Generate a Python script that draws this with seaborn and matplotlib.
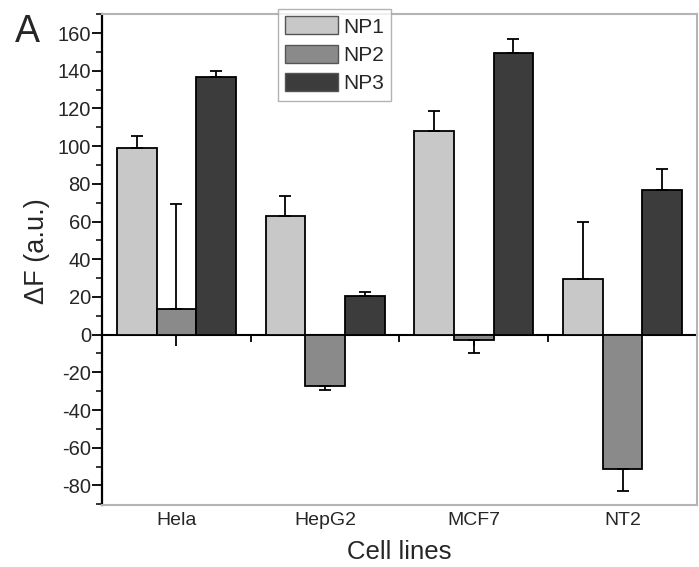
import matplotlib
matplotlib.use("Agg")
import matplotlib.pyplot as plt
import seaborn as sns
import pandas as pd
import numpy as np
from matplotlib.ticker import MultipleLocator, FixedLocator

cells = ["Hela", "HepG2", "MCF7", "NT2"]
series = ["NP1", "NP2", "NP3"]
np1 = [99, 63, 108, 29.5]
np2 = [13.5, -27.5, -3, -71.5]
np3 = [136.5, 20.5, 149.5, 76.5]
err1 = [6.5, 10.5, 10.5, 30]
err2 = [56, 2, 7, 11.5]
err3 = [3.5, 2, 7.5, 11.5]
colors = ["#c8c8c8", "#8a8a8a", "#3c3c3c"]

vals = [np1, np2, np3]
errs = [err1, err2, err3]
df = pd.DataFrame({
    "cell": cells * 3,
    "series": [s for s in series for _ in cells],
    "value": np1 + np2 + np3,
})

sns.set_style("white")
plt.rcParams["font.family"] = ["Liberation Sans", "DejaVu Sans"]
plt.rcParams["axes.unicode_minus"] = False

fig = plt.figure(figsize=(6.99, 5.67), dpi=100)
ax = fig.add_axes([0.146, 0.109, 0.851, 0.866])

sns.barplot(data=df, x="cell", y="value", hue="series", order=cells,
            hue_order=series, palette=colors, edgecolor="black",
            linewidth=1.3, errorbar=None, width=0.8, saturation=1, ax=ax)

for cont, v, e in zip(ax.containers, vals, errs):
    xs = [b.get_x() + b.get_width() / 2 for b in cont]
    lower = [ei if vi < 0 else 0 for vi, ei in zip(v, e)]
    upper = [ei if vi >= 0 else 0 for vi, ei in zip(v, e)]
    ax.errorbar(xs, v, yerr=[lower, upper], fmt="none", ecolor="black",
                elinewidth=1.3, capsize=4, capthick=1.3, zorder=3)

ymin, ymax = -90.5, 170
ax.set_ylim(ymin, ymax)
ax.set_xlim(-0.5, 3.5)

ax.yaxis.set_major_locator(FixedLocator(np.arange(-80, 161, 20)))
ax.yaxis.set_minor_locator(MultipleLocator(10))
ax.tick_params(axis="y", which="major", direction="out", length=7, width=1.3,
               labelsize=14.5, pad=1, left=True, color="black")
ax.tick_params(axis="y", which="minor", direction="out", length=4, width=1.1,
               left=True, color="black")
ax.tick_params(axis="x", which="both", length=0, labelsize=14, pad=5)

for side in ["top", "right", "bottom"]:
    ax.spines[side].set_color("#b4b4b4")
    ax.spines[side].set_linewidth(1.5)
ax.spines["left"].set_color("black")
ax.spines["left"].set_linewidth(1.6)

# zero axis with ticks
zfrac = (0 - ymin) / (ymax - ymin)
sec = ax.secondary_xaxis(zfrac)
sec.set_xticks(range(len(cells)))
sec.xaxis.set_minor_locator(FixedLocator([0.5, 1.5, 2.5, 3.5]))
sec.tick_params(axis="x", which="major", direction="out", length=8, width=1.3,
                labelbottom=False, color="black")
sec.tick_params(axis="x", which="minor", direction="out", length=5, width=1.3,
                color="black")
sec.set_xticklabels([])
sec.spines["bottom"].set_color("black")
sec.spines["bottom"].set_linewidth(1.5)

ax.set_xlabel("Cell lines", fontsize=18.5, labelpad=8)
ax.set_ylabel("ΔF (a.u.)", fontsize=19.5)
ax.yaxis.set_label_coords(-0.087, 0.517)

leg = ax.legend(loc="upper left", bbox_to_anchor=(0.398, 0.984),
                bbox_transform=fig.transFigure, fontsize=15, frameon=True,
                fancybox=False, edgecolor="#a0a0a0", borderaxespad=0,
                handlelength=2.5, handleheight=0.95, labelspacing=0.4,
                handletextpad=0.25, borderpad=0.35, title=None)
leg.get_frame().set_linewidth(1.0)
for h in leg.legend_handles:
    h.set_edgecolor("#555555")
    h.set_linewidth(1.0)

fig.text(0.022, 0.975, "A", fontsize=27, va="top", ha="left")

fig.savefig("out.png", dpi=100)
